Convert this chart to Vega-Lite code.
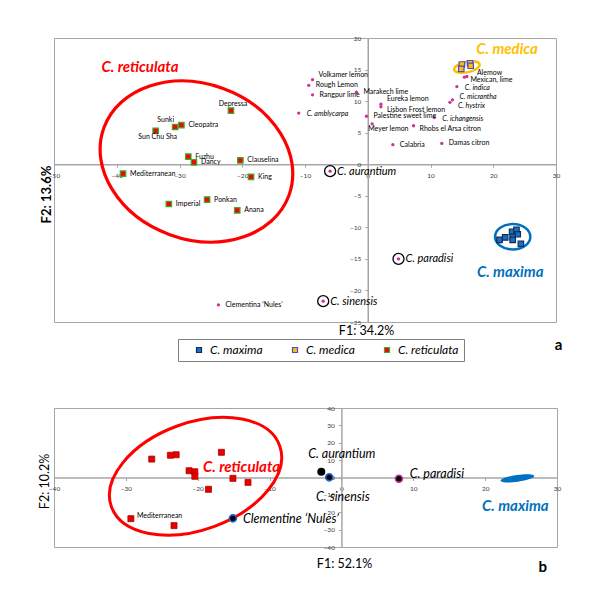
{
  "$schema": "https://vega.github.io/schema/vega-lite/v6.json",
  "padding": {"left": 38, "top": 34, "right": 5, "bottom": 5},
  "bounds": "flush",
  "spacing": 86,
  "config": {
    "font": "Lato",
    "view": {"stroke": "#a6a6a6", "strokeWidth": 1},
    "axis": {"grid": false, "domainColor": "#a6a6a6", "domainWidth": 1.5, "tickColor": "#a6a6a6", "tickSize": 3, "tickWidth": 1, "labelFontSize": 6.5, "labelColor": "#404040", "labelFlush": false, "labelOverlap": false, "labelBound": false, "titleColor": "#000000", "titleFont": "Lato"},
    "text": {"font": "Lato"}
  },
  "datasets": {
    "sq_a": [
      {"name": "Depressa", "group": "C. reticulata", "x": -21.8, "y": 8.5},
      {"name": "Sunki", "group": "C. reticulata", "x": -30.7, "y": 5.9},
      {"name": "Cleopatra", "group": "C. reticulata", "x": -29.7, "y": 6.2},
      {"name": "Sun Chu Sha", "group": "C. reticulata", "x": -33.8, "y": 5.3},
      {"name": "Fuzhu", "group": "C. reticulata", "x": -28.6, "y": 1.2},
      {"name": "Dancy", "group": "C. reticulata", "x": -27.7, "y": 0.3},
      {"name": "Clauselina", "group": "C. reticulata", "x": -20.3, "y": 0.6},
      {"name": "Mediterranean", "group": "C. reticulata", "x": -39.0, "y": -1.5},
      {"name": "King", "group": "C. reticulata", "x": -18.6, "y": -2.0},
      {"name": "Ponkan", "group": "C. reticulata", "x": -25.6, "y": -5.6},
      {"name": "Imperial", "group": "C. reticulata", "x": -31.7, "y": -6.3},
      {"name": "Anana", "group": "C. reticulata", "x": -20.8, "y": -7.3},
      {"name": "", "group": "C. medica", "x": 15.0, "y": 15.8},
      {"name": "", "group": "C. medica", "x": 14.9, "y": 15.1},
      {"name": "", "group": "C. medica", "x": 16.3, "y": 16.0},
      {"name": "", "group": "C. medica", "x": 16.4, "y": 15.6},
      {"name": "", "group": "C. maxima", "x": 21.0, "y": -12.0},
      {"name": "", "group": "C. maxima", "x": 21.9, "y": -11.6},
      {"name": "", "group": "C. maxima", "x": 23.0, "y": -10.7},
      {"name": "", "group": "C. maxima", "x": 23.7, "y": -10.4},
      {"name": "", "group": "C. maxima", "x": 23.9, "y": -11.1},
      {"name": "", "group": "C. maxima", "x": 23.1, "y": -11.5},
      {"name": "", "group": "C. maxima", "x": 23.1, "y": -12.0},
      {"name": "", "group": "C. maxima", "x": 24.4, "y": -12.6}
    ],
    "other_a": [
      {"name": "Volkamer lemon", "x": -8.8, "y": 13.4},
      {"name": "Rough Lemon", "x": -9.4, "y": 12.5},
      {"name": "Rangpur lime", "x": -8.8, "y": 11.0},
      {"name": "C. amblycarpa", "x": -11.0, "y": 8.1},
      {"name": "Marakech lime", "x": -1.8, "y": 11.4},
      {"name": "Eureka lemon", "x": 2.1, "y": 9.5},
      {"name": "Lisbon Frost lemon", "x": 2.1, "y": 9.1},
      {"name": "Palestine sweet lime", "x": -0.2, "y": 7.6},
      {"name": "Meyer lemon", "x": 0.7, "y": 6.4},
      {"name": "Calabria", "x": 4.0, "y": 3.1},
      {"name": "Rhobs el Arsa citron", "x": 7.3, "y": 6.1},
      {"name": "C. ichangensis", "x": 10.6, "y": 7.4},
      {"name": "Damas citron", "x": 11.8, "y": 3.3},
      {"name": "C. hystrix", "x": 13.1, "y": 9.8},
      {"name": "C. micrantha", "x": 13.5, "y": 10.2},
      {"name": "C. indica", "x": 14.2, "y": 12.3},
      {"name": "Mexican, lime", "x": 15.4, "y": 13.8},
      {"name": "Alemow", "x": 15.8, "y": 13.9},
      {"name": "C. aurantium", "x": -6.0, "y": -1.1},
      {"name": "C. paradisi", "x": 4.9, "y": -15.0},
      {"name": "C. sinensis", "x": -7.1, "y": -21.7},
      {"name": "Clementina ‘Nules’", "x": -23.8, "y": -22.3}
    ],
    "groups_a": [
      {"label": "C. reticulata", "x": -36.3, "y": 15.4},
      {"label": "C. medica", "x": 22.2, "y": 18.3},
      {"label": "C. maxima", "x": 22.7, "y": -17.1}
    ],
    "sq_b": [
      {"name": "", "x": -26.4, "y": 10.6},
      {"name": "", "x": -23.8, "y": 12.8},
      {"name": "", "x": -23.0, "y": 13.1},
      {"name": "", "x": -21.2, "y": 3.9},
      {"name": "", "x": -20.4, "y": 3.3},
      {"name": "", "x": -20.4, "y": 0.7},
      {"name": "", "x": -18.5, "y": -6.8},
      {"name": "", "x": -16.7, "y": 14.5},
      {"name": "", "x": -15.1, "y": -0.5},
      {"name": "", "x": -13.0, "y": -2.8},
      {"name": "Mediterranean", "x": -29.3, "y": -23.7},
      {"name": "", "x": -23.3, "y": -27.7}
    ],
    "dots_b": [
      {"name": "C. aurantium", "x": -2.8, "y": 3.3},
      {"name": "C. sinensis", "x": -1.7, "y": 0.1},
      {"name": "C. paradisi", "x": 8.0, "y": -0.7},
      {"name": "Clementine ‘Nules’", "x": -15.1, "y": -23.5}
    ],
    "labels_b": [
      {"label": "C. aurantium", "x": 0.05, "y": 13.5},
      {"label": "C. sinensis", "x": 0.2, "y": -11.2},
      {"label": "C. paradisi", "x": 9.5, "y": 2.0},
      {"label": "Clementine ‘Nules’", "x": -13.7, "y": -23.9}
    ],
    "groups_b": [
      {"label": "C. reticulata", "x": -13.9, "y": 6.2},
      {"label": "C. maxima", "x": 24.2, "y": -16.4}
    ]
  },
  "vconcat": [
    {
      "width": 502,
      "height": 284,
      "encoding": {
        "x": {"field": "x", "type": "quantitative", "scale": {"domain": [-50, 30], "nice": false, "zero": false},
          "axis": {"orient": "bottom", "offset": -157.8, "values": [-50, -40, -30, -20, -10, 0, 10, 20, 30], "labelPadding": 5, "title": "F1:  34.2%", "titleFontSize": 12.5, "titleFontWeight": "normal", "titleX": 312, "titleY": 166, "titleAlign": "center", "titleBaseline": "middle"}},
        "y": {"field": "y", "type": "quantitative", "scale": {"domain": [-25, 20], "nice": false, "zero": false},
          "axis": {"orient": "left", "offset": -313.75, "values": [-25, -20, -15, -10, -5, 0, 5, 10, 15, 20], "labelPadding": 4, "title": "F2: 13.6%", "titleFontSize": 13, "titleFontWeight": "bold", "titleX": -321, "titleY": 156, "titleAngle": 270, "titleAlign": "center", "titleBaseline": "middle"}}
      },
      "layer": [
        {"data": {"values": [{"x": -27.3, "y": 0.43}]},
          "mark": {"type": "point", "shape": "M -1 0 A 1 0.79 0 1 0 1 0 A 1 0.79 0 1 0 -1 0 Z", "size": 38809, "angle": 20, "filled": false, "color": "#ff0000", "strokeWidth": 3.2, "opacity": 1}},
        {"data": {"values": [{"x": 23.1, "y": -11.5}]},
          "mark": {"type": "point", "shape": "M -1 0 A 1 0.72 0 1 0 1 0 A 1 0.72 0 1 0 -1 0 Z", "size": 1246, "filled": false, "color": "#0070c0", "strokeWidth": 2.5, "opacity": 1}},
        {"data": {"values": [{"x": 15.8, "y": 15.4}]},
          "mark": {"type": "point", "shape": "M -1 0 A 1 0.4 0 1 0 1 0 A 1 0.4 0 1 0 -1 0 Z", "size": 676, "angle": -12, "filled": false, "color": "#ffc000", "strokeWidth": 2.5, "opacity": 1}},
        {"data": {"name": "other_a"},
          "transform": [{"filter": {"field": "name", "oneOf": ["C. aurantium", "C. paradisi", "C. sinensis"]}}],
          "mark": {"type": "point", "shape": "circle", "size": 121, "filled": false, "color": "#000000", "strokeWidth": 1.3, "opacity": 1}},
        {"data": {"name": "other_a"},
          "mark": {"type": "point", "shape": "circle", "size": 11, "filled": true, "color": "#cc3399", "opacity": 1}},
        {"data": {"name": "sq_a"},
          "mark": {"type": "point", "shape": "square", "size": 30, "filled": true, "strokeWidth": 1.2, "opacity": 1},
          "encoding": {
            "fill": {"field": "group", "type": "nominal", "scale": {"domain": ["C. maxima", "C. medica", "C. reticulata"], "range": ["#1a6fc0", "#ffc000", "#ff0000"]},
              "legend": {"orient": "none", "legendX": 124, "legendY": 301, "direction": "horizontal", "title": null, "strokeColor": "#7f7f7f", "padding": 5, "symbolOffset": 10, "columnPadding": 16, "labelOffset": 5, "labelFontSize": 12, "labelFontStyle": "italic", "labelFont": "Lato", "labelColor": "#000000", "symbolType": "square", "symbolSize": 25, "symbolStrokeWidth": 1.2}},
            "stroke": {"field": "group", "type": "nominal", "scale": {"domain": ["C. maxima", "C. medica", "C. reticulata"], "range": ["#0f2d5a", "#4b4bd8", "#33b033"]},
              "legend": {"orient": "none", "legendX": 124, "legendY": 301, "direction": "horizontal", "title": null, "strokeColor": "#7f7f7f", "padding": 5, "symbolOffset": 10, "columnPadding": 16, "labelOffset": 5, "labelFontSize": 12, "labelFontStyle": "italic", "labelFont": "Lato", "labelColor": "#000000", "symbolType": "square", "symbolSize": 25, "symbolStrokeWidth": 1.2}}
          }},
        {"data": {"name": "sq_a"},
          "transform": [{"filter": {"field": "name", "oneOf": ["Cleopatra", "Fuzhu", "Dancy", "Clauselina", "Mediterranean", "King", "Ponkan", "Imperial", "Anana"]}}],
          "mark": {"type": "text", "align": "left", "baseline": "middle", "dx": 7, "fontSize": 7, "color": "#000000"},
          "encoding": {"text": {"field": "name"}}},
        {"data": {"name": "sq_a"},
          "transform": [{"filter": {"field": "name", "equal": "Depressa"}}],
          "mark": {"type": "text", "align": "center", "baseline": "middle", "dx": 2, "dy": -7, "fontSize": 7, "color": "#000000"},
          "encoding": {"text": {"field": "name"}}},
        {"data": {"name": "sq_a"},
          "transform": [{"filter": {"field": "name", "equal": "Sunki"}}],
          "mark": {"type": "text", "align": "right", "baseline": "middle", "dx": -1, "dy": -7, "fontSize": 7, "color": "#000000"},
          "encoding": {"text": {"field": "name"}}},
        {"data": {"name": "sq_a"},
          "transform": [{"filter": {"field": "name", "equal": "Sun Chu Sha"}}],
          "mark": {"type": "text", "align": "center", "baseline": "middle", "dx": 2, "dy": 6, "fontSize": 7, "color": "#000000"},
          "encoding": {"text": {"field": "name"}}},
        {"data": {"name": "other_a"},
          "transform": [{"filter": {"field": "name", "oneOf": ["Rough Lemon", "Rangpur lime", "Marakech lime", "Palestine sweet lime", "Calabria", "Damas citron", "Clementina ‘Nules’"]}}],
          "mark": {"type": "text", "align": "left", "baseline": "middle", "dx": 7, "fontSize": 7, "color": "#000000"},
          "encoding": {"text": {"field": "name"}}},
        {"data": {"name": "other_a"},
          "transform": [{"filter": {"field": "name", "oneOf": ["Volkamer lemon", "Eureka lemon"]}}],
          "mark": {"type": "text", "align": "left", "baseline": "middle", "dx": 6, "dy": -5, "fontSize": 7, "color": "#000000"},
          "encoding": {"text": {"field": "name"}}},
        {"data": {"name": "other_a"},
          "transform": [{"filter": {"field": "name", "equal": "Alemow"}}],
          "mark": {"type": "text", "align": "left", "baseline": "middle", "dx": 10, "dy": -3, "fontSize": 7, "color": "#000000"},
          "encoding": {"text": {"field": "name"}}},
        {"data": {"name": "other_a"},
          "transform": [{"filter": {"field": "name", "oneOf": ["Mexican, lime", "Lisbon Frost lemon", "Rhobs el Arsa citron"]}}],
          "mark": {"type": "text", "align": "left", "baseline": "middle", "dx": 6, "dy": 3, "fontSize": 7, "color": "#000000"},
          "encoding": {"text": {"field": "name"}}},
        {"data": {"name": "other_a"},
          "transform": [{"filter": {"field": "name", "equal": "Meyer lemon"}}],
          "mark": {"type": "text", "align": "left", "baseline": "middle", "dx": -4, "dy": 5, "fontSize": 7, "color": "#000000"},
          "encoding": {"text": {"field": "name"}}},
        {"data": {"name": "other_a"},
          "transform": [{"filter": {"field": "name", "oneOf": ["C. amblycarpa", "C. ichangensis", "C. indica"]}}],
          "mark": {"type": "text", "align": "left", "baseline": "middle", "dx": 8, "dy": 1, "fontSize": 7, "fontStyle": "italic", "color": "#000000"},
          "encoding": {"text": {"field": "name"}}},
        {"data": {"name": "other_a"},
          "transform": [{"filter": {"field": "name", "equal": "C. micrantha"}}],
          "mark": {"type": "text", "align": "left", "baseline": "middle", "dx": 7, "dy": -3, "fontSize": 7, "fontStyle": "italic", "color": "#000000"},
          "encoding": {"text": {"field": "name"}}},
        {"data": {"name": "other_a"},
          "transform": [{"filter": {"field": "name", "equal": "C. hystrix"}}],
          "mark": {"type": "text", "align": "left", "baseline": "middle", "dx": 8, "dy": 4, "fontSize": 7, "fontStyle": "italic", "color": "#000000"},
          "encoding": {"text": {"field": "name"}}},
        {"data": {"name": "other_a"},
          "transform": [{"filter": {"field": "name", "oneOf": ["C. aurantium", "C. paradisi", "C. sinensis"]}}],
          "mark": {"type": "text", "align": "left", "baseline": "middle", "dx": 7, "dy": 0.5, "fontSize": 11, "fontStyle": "italic", "color": "#000000"},
          "encoding": {"text": {"field": "name"}}},
        {"data": {"name": "groups_a"},
          "mark": {"type": "text", "align": "center", "baseline": "middle", "fontSize": 15, "fontWeight": "bold", "fontStyle": "italic"},
          "encoding": {"text": {"field": "label"},
            "color": {"field": "label", "type": "nominal", "scale": {"domain": ["C. reticulata", "C. medica", "C. maxima"], "range": ["#ff0000", "#ffc000", "#0070c0"]}, "legend": null}}},
        {"data": {"values": [{"label": "a", "x": 30.4, "y": -28.6}]},
          "mark": {"type": "text", "align": "center", "baseline": "middle", "fontSize": 15, "fontWeight": "bold", "color": "#000000"},
          "encoding": {"text": {"field": "label"}}}
      ]
    },
    {
      "width": 503,
      "height": 139,
      "encoding": {
        "x": {"field": "x", "type": "quantitative", "scale": {"domain": [-40, 30], "nice": false, "zero": false},
          "axis": {"orient": "bottom", "offset": -69.5, "values": [-40, -30, -20, -10, 0, 10, 20, 30], "labelPadding": 5, "title": "F1:  52.1%", "titleFontSize": 12.5, "titleFontWeight": "normal", "titleX": 290, "titleY": 85.5, "titleAlign": "center", "titleBaseline": "middle"}},
        "y": {"field": "y", "type": "quantitative", "scale": {"domain": [-40, 40], "nice": false, "zero": false},
          "axis": {"orient": "left", "offset": -287.4, "values": [-40, -30, -20, -10, 0, 10, 20, 30, 40], "labelPadding": 4, "title": "F2: 10.2%", "titleFontSize": 12.5, "titleFontWeight": "normal", "titleX": -296.5, "titleY": 73, "titleAngle": 270, "titleAlign": "center", "titleBaseline": "middle"}}
      },
      "layer": [
        {"data": {"values": [{"x": -20.3, "y": 0.7}]},
          "mark": {"type": "point", "shape": "M -1 0 A 1 0.598 0 1 0 1 0 A 1 0.598 0 1 0 -1 0 Z", "size": 32041, "angle": -20, "filled": false, "color": "#ff0000", "strokeWidth": 3, "opacity": 1}},
        {"data": {"values": [{"x": 24.5, "y": -0.5}]},
          "mark": {"type": "point", "shape": "M -1 0 A 1 0.2 0 1 0 1 0 A 1 0.2 0 1 0 -1 0 Z", "size": 1156, "angle": -8, "filled": true, "color": "#0070c0", "opacity": 1}},
        {"data": {"name": "sq_b"},
          "mark": {"type": "point", "shape": "square", "size": 36, "filled": true, "fill": "#e60000", "stroke": "#b00000", "strokeWidth": 0.8, "opacity": 1}},
        {"data": {"name": "dots_b"},
          "transform": [{"filter": {"field": "name", "equal": "C. aurantium"}}],
          "mark": {"type": "point", "shape": "circle", "size": 64, "filled": true, "color": "#000000", "opacity": 1}},
        {"data": {"name": "dots_b"},
          "transform": [{"filter": {"field": "name", "oneOf": ["C. sinensis", "Clementine ‘Nules’"]}}],
          "mark": {"type": "point", "shape": "circle", "size": 49, "filled": true, "fill": "#000000", "stroke": "#2060c8", "strokeWidth": 1.6, "opacity": 1}},
        {"data": {"name": "dots_b"},
          "transform": [{"filter": {"field": "name", "equal": "C. paradisi"}}],
          "mark": {"type": "point", "shape": "circle", "size": 49, "filled": true, "fill": "#000000", "stroke": "#cc3399", "strokeWidth": 1.6, "opacity": 1}},
        {"data": {"name": "sq_b"},
          "transform": [{"filter": {"field": "name", "equal": "Mediterranean"}}],
          "mark": {"type": "text", "align": "left", "baseline": "middle", "dx": 6, "dy": -3, "fontSize": 7, "color": "#000000"},
          "encoding": {"text": {"field": "name"}}},
        {"data": {"name": "labels_b"},
          "transform": [{"filter": {"field": "label", "oneOf": ["C. aurantium", "C. sinensis"]}}],
          "mark": {"type": "text", "align": "center", "baseline": "middle", "fontSize": 12.5, "fontStyle": "italic", "color": "#000000"},
          "encoding": {"text": {"field": "label"}}},
        {"data": {"name": "labels_b"},
          "transform": [{"filter": {"field": "label", "oneOf": ["C. paradisi", "Clementine ‘Nules’"]}}],
          "mark": {"type": "text", "align": "left", "baseline": "middle", "fontSize": 12.5, "fontStyle": "italic", "color": "#000000"},
          "encoding": {"text": {"field": "label"}}},
        {"data": {"name": "groups_b"},
          "mark": {"type": "text", "align": "center", "baseline": "middle", "fontSize": 15, "fontWeight": "bold", "fontStyle": "italic"},
          "encoding": {"text": {"field": "label"},
            "color": {"field": "label", "type": "nominal", "scale": {"domain": ["C. reticulata", "C. maxima"], "range": ["#dd0000", "#0070c0"]}, "legend": null}}},
        {"data": {"values": [{"label": "b", "x": 28.0, "y": -51.5}]},
          "mark": {"type": "text", "align": "center", "baseline": "middle", "fontSize": 15, "fontWeight": "bold", "color": "#000000"},
          "encoding": {"text": {"field": "label"}}}
      ]
    }
  ]
}
